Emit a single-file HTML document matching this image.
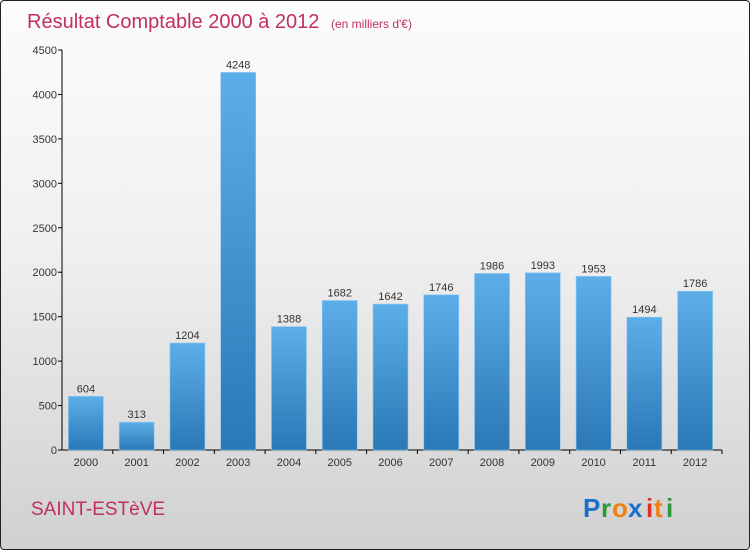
<!DOCTYPE html>
<html><head><meta charset="utf-8"><style>
html,body{margin:0;padding:0}
body{width:750px;height:550px;overflow:hidden;font-family:"Liberation Sans",sans-serif}
#wrap{position:relative;width:748px;height:548px;border:1px solid #222;border-radius:4px;background:linear-gradient(#fcfcfc 0%,#f0f0f0 45%,#d0d0d0 100%);overflow:hidden}
</style></head><body>
<div id="wrap">
<svg id="chart" width="748" height="548" xmlns="http://www.w3.org/2000/svg">
<defs><linearGradient id="bg" x1="0" y1="0" x2="0" y2="1"><stop offset="0" stop-color="#5daee8"/><stop offset="1" stop-color="#2a78b6"/></linearGradient></defs>
<text x="26" y="27" font-size="20" fill="#c0305a">Résultat Comptable 2000 à 2012 <tspan font-size="12" dx="6">(en milliers d'€)</tspan></text>
<g id="axes"></g><g id="bars"></g>
<text x="30" y="514" font-size="19" fill="#c0305a">SAINT-ESTèVE</text>
<g font-size="26" font-weight="bold">
<text x="582" y="516" fill="#1a6fc8">P</text><text x="600" y="516" fill="#2a9a3a">r</text><text x="611" y="516" fill="#f08010">o</text><text x="627" y="516" fill="#1a6fc8">x</text><text x="645" y="516" fill="#e03020">i</text><text x="653" y="516" fill="#f08010">t</text><text x="665" y="516" fill="#2a9a3a">i</text>
</g>
</svg></div>
<script>
const categories=["2000","2001","2002","2003","2004","2005","2006","2007","2008","2009","2010","2011","2012"];
const values=[604,313,1204,4248,1388,1682,1642,1746,1986,1993,1953,1494,1786];
const ticks=[0,500,1000,1500,2000,2500,3000,3500,4000,4500];
const NS="http://www.w3.org/2000/svg";
const x0=61,x1=721,y0=449,yTop=49,ymax=4500;
const band=(x1-x0)/categories.length;
const yS=v=>y0-(v/ymax)*(y0-yTop);
const xS=i=>x0-1.5+band*(i+0.5);
function mk(t,a,p){const e=document.createElementNS(NS,t);for(const k in a)e.setAttribute(k,a[k]);p.appendChild(e);return e;}
const ax=document.getElementById('axes'),bs=document.getElementById('bars');
const yl=mk('line',{x1:x0,y1:yTop,x2:x0,y2:y0,stroke:'#000'},ax);


const xl=mk('line',{x1:x0,y1:y0,x2:x1,y2:y0,stroke:'#000'},ax);


ticks.forEach(t=>{const y=yS(t);
mk('line',{x1:x0-4,y1:y,x2:x0,y2:y,stroke:'#000'},ax);
const tx=mk('text',{x:x0-5,y:y+4,'font-size':11,'text-anchor':'end',fill:'#333'},ax);tx.textContent=t;

});
categories.forEach((c,i)=>{const cx=xS(i),v=values[i],y=yS(v);
mk('line',{x1:x0+band*(i+1),y1:y0,x2:x0+band*(i+1),y2:y0+4,stroke:'#000'},ax);
const r=mk('rect',{x:cx-17.5,y:y,width:35,height:y0-y,fill:'url(#bg)',stroke:'#8cc8f0','stroke-width':0.6},bs);


const vl=mk('text',{x:cx,y:y-4,'font-size':11,'text-anchor':'middle',fill:'#333'},bs);vl.textContent=v;


const cl=mk('text',{x:cx,y:y0+16,'font-size':11,'text-anchor':'middle',fill:'#333'},ax);cl.textContent=c;

});
</script>
</body></html>
